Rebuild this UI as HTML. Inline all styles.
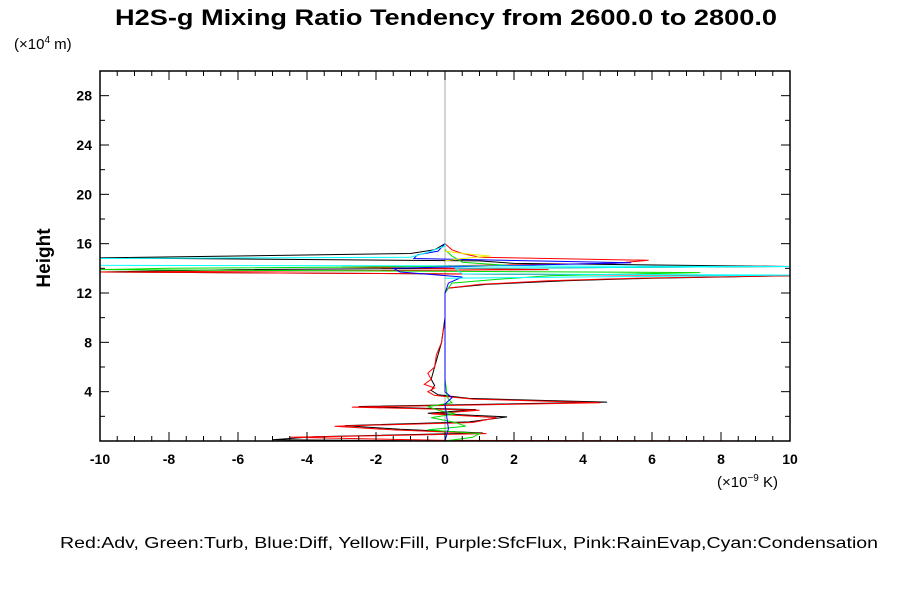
<!DOCTYPE html>
<html><head><meta charset="utf-8"><style>
body{margin:0;background:#fff;}
svg{display:block;font-family:"Liberation Sans",sans-serif;}
</style></head><body>
<svg id="chart" width="900" height="600">
<text x="115" y="25" textLength="662" lengthAdjust="spacingAndGlyphs" font-size="22" font-weight="bold">H2S-g Mixing Ratio Tendency from 2600.0 to 2800.0</text>
<text x="14" y="49" font-size="15">(×10<tspan font-size="10" dy="-6">4</tspan><tspan dy="6">  m)</tspan></text>
<text x="50" y="258" font-size="19" font-weight="bold" text-anchor="middle" transform="rotate(-90 50 258)">Height</text>
<text x="717" y="487" font-size="15">(×10<tspan font-size="10" dy="-6">−9</tspan><tspan dy="6">  K)</tspan></text>
<text x="60" y="548" font-size="15.5" textLength="818" lengthAdjust="spacingAndGlyphs">Red:Adv, Green:Turb, Blue:Diff, Yellow:Fill, Purple:SfcFlux, Pink:RainEvap,Cyan:Condensation</text>
<defs><clipPath id="pc"><rect x="100" y="72" width="690" height="369"/></clipPath></defs>
<g id="marks" clip-path="url(#pc)"></g>
<g id="axes"></g>
</svg>
<script>
const xTicks=[-10,-8,-6,-4,-2,0,2,4,6,8,10];
const yTicks=[4,8,12,16,20,24,28];
const redH=[0,0.05,0.3,0.6,0.9,1.2,1.5,1.9,2.2,2.5,2.75,3.1,3.4,3.7,4.0,4.3,4.6,5.0,5.5,6,7,8,9,9.5,10,11,12,12.4,12.7,13.0,13.2,13.4,13.7,13.9,14.1,14.4,14.65,14.9,15.2,15.5,16];
const redV=[10,0,-4.5,1.2,-1.5,-3.2,0.8,1.5,-0.4,1.0,-2.7,4.5,0.8,-0.3,-0.5,-0.3,-0.6,-0.4,-0.5,-0.3,-0.25,-0.1,-0.05,0,0,0,0,0.1,1,3,5.5,10,-10,3,-3,4.9,5.9,1,0.5,0.2,0];
const blackH=[0,0.1,0.35,0.65,0.95,1.25,1.55,1.95,2.25,2.55,2.8,3.15,3.45,3.75,4.1,4.5,5,6,8,10,12,12.4,12.7,13.0,13.2,13.4,13.7,13.9,14.15,14.4,14.6,14.85,15.2,15.5,16];
const blackV=[0,-5,-3.8,1.1,-1.3,-2.9,0.7,1.8,-0.5,0.9,-2.5,4.7,0.7,-0.2,-0.4,-0.3,-0.4,-0.3,-0.1,0,0,0.1,1.2,3.5,6,10,-10,-6,10,2,1,-10,-1,-0.3,0];
const greenH=[0,0.3,0.6,0.9,1.2,1.5,1.9,2.2,2.5,2.8,3.1,3.4,3.7,4,5,6,12,12.8,13.1,13.4,13.65,13.9,14.0,14.2,14.5,15,15.5];
const greenV=[0,0.8,1.0,-0.5,0.6,0.3,-0.4,0.3,-0.2,-0.5,0.2,0.1,0.05,0.05,0,0,0,0.2,1.5,3,7.4,-10,-8,2,0.5,0.2,0];
const blueH=[0,1,3,3.5,4,12,12.8,13.3,13.7,14.0,14.3,14.45,14.8,15.1,15.4,16];
const blueV=[0,0.1,0,0.2,0,0,0.1,0.5,-1.3,-1.5,3,5.4,-0.9,-0.8,-0.2,0];
const cyanH=[13.2,13.45,13.55,14.0,14.15,14.25,14.8,14.9,15.3,15.8,16];
const cyanV=[0,10,0.5,0.3,10,-10,-10,-1,-0.5,0,0];
const yellowH=[14.6,14.8,15.0,15.2,15.4];
const yellowV=[0,0.5,1.3,0.5,0];
const NS='http://www.w3.org/2000/svg';
const X0=100,X1=790,Y0=441,Y1=71;
function sx(v){return X0+(v+10)/20*(X1-X0);}
function sy(h){return Y0-h/30*(Y0-Y1);}
const marks=document.getElementById('marks'),axes=document.getElementById('axes');
function el(t,a,p){const e=document.createElementNS(NS,t);for(const k in a)e.setAttribute(k,a[k]);p.appendChild(e);return e;}
const zl=el('line',{x1:sx(0),x2:sx(0),y1:Y1,y2:Y0,stroke:'#aaa','stroke-width':1},marks);


const series=[['black',blackH,blackV,'#000'],['red',redH,redV,'#f00'],['green',greenH,greenV,'#0d0'],['blue',blueH,blueV,'#00f'],['cyan',cyanH,cyanV,'#0ff'],['yellow',yellowH,yellowV,'#ee0']];
series.forEach(s=>{
  const pts=s[1].map((h,i)=>sx(s[2][i]).toFixed(1)+','+sy(h).toFixed(1)).join(' ');
  const p=el('polyline',{points:pts,fill:'none',stroke:s[3],'stroke-width':1},marks);
  
  
});
const fr=el('rect',{x:X0,y:Y1,width:X1-X0,height:Y0-Y1,fill:'none',stroke:'#000','stroke-width':1.5},axes);


for(let v=-10;v<=10.001;v+=0.5){
  const major=Math.abs(v%2)<0.01;const L=major?9:5;
  el('line',{x1:sx(v),x2:sx(v),y1:Y0,y2:Y0-L,stroke:'#000'},axes);
  el('line',{x1:sx(v),x2:sx(v),y1:Y1,y2:Y1+L,stroke:'#000'},axes);
}
for(let h=2;h<30;h+=2){
  const major=h%4==0;const L=major?9:5;
  el('line',{x1:X0,x2:X0+L,y1:sy(h),y2:sy(h),stroke:'#000'},axes);
  el('line',{x1:X1,x2:X1-L,y1:sy(h),y2:sy(h),stroke:'#000'},axes);
}
xTicks.forEach(v=>{
  const t=el('text',{x:sx(v),y:464,'text-anchor':'middle','font-size':14,'font-weight':'bold'},axes);
  t.textContent=v;
  
  
});
yTicks.forEach(h=>{
  const t=el('text',{x:92,y:sy(h)+5,'text-anchor':'end','font-size':14,'font-weight':'bold'},axes);
  t.textContent=h;
  
  
});
</script>
</body></html>
